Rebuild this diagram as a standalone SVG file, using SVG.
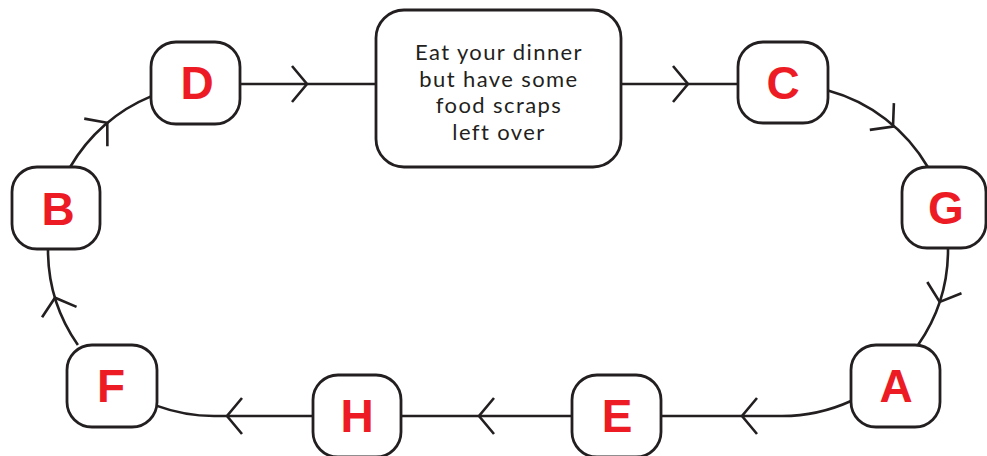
<svg xmlns="http://www.w3.org/2000/svg" width="987" height="456" viewBox="0 0 987 456">
<style>
.box{fill:#ffffff;stroke:#231f20;stroke-width:2.8}
.lbl{font-family:"Liberation Sans",Arial,sans-serif;font-weight:bold;font-size:46px;fill:#ed1c24;text-anchor:middle}
.txt{font-family:Lato,"Liberation Sans",sans-serif;font-size:22px;letter-spacing:1.4px;fill:#231f20;text-anchor:middle}
.con{fill:none;stroke:#231f20;stroke-width:2.6}
</style>
<defs>
<path id="chev" d="M-15,-18 L0,0 L-15,18" fill="none" stroke="#231f20" stroke-width="2.6"/>
</defs>
<rect width="987" height="456" fill="#ffffff"/>
<g id="connectors">
<path class="con" d="M240,84 H376"/>
<use href="#chev" transform="translate(307,84)"/>
<path class="con" d="M621,84 H738"/>
<use href="#chev" transform="translate(688,84)"/>
<path class="con" d="M828,90.5 A166,166 0 0 1 927.8,167"/>
<use href="#chev" transform="translate(893,126.5) rotate(42)"/>
<path class="con" d="M948,248 A166,166 0 0 1 918,345"/>
<use href="#chev" transform="translate(939.7,301.9) rotate(108.2)"/>
<path class="con" d="M851,401 A166,166 0 0 1 782,416 H661"/>
<use href="#chev" transform="translate(742,416) rotate(180)"/>
<path class="con" d="M572,416 H401"/>
<use href="#chev" transform="translate(479,416) rotate(180)"/>
<path class="con" d="M313,416 H214 A166,166 0 0 1 157,405.9"/>
<use href="#chev" transform="translate(227,416) rotate(180)"/>
<path class="con" d="M77.9,345 A166,166 0 0 1 48,249"/>
<use href="#chev" transform="translate(55,297.7) rotate(253.3)"/>
<path class="con" d="M70.2,167 A166,166 0 0 1 151,96.4"/>
<use href="#chev" transform="translate(107.3,122.8) rotate(-40)"/>
</g>
<g id="node-center">
<rect class="box" x="376" y="10" width="245" height="157" rx="28"/>
<text class="txt" x="499" y="60">Eat your dinner</text>
<text class="txt" x="499" y="86.7">but have some</text>
<text class="txt" x="499" y="113.3">food scraps</text>
<text class="txt" x="499" y="140">left over</text>
</g>
<g id="node-D">
<rect class="box" x="151" y="42" width="89" height="82" rx="25"/>
<text class="lbl" x="197" y="99">D</text>
</g>
<g id="node-C">
<rect class="box" x="738" y="42" width="90" height="81" rx="25"/>
<text class="lbl" x="783" y="99">C</text>
</g>
<g id="node-G">
<rect class="box" x="902" y="167" width="84" height="81" rx="25"/>
<text class="lbl" x="946" y="224">G</text>
</g>
<g id="node-A">
<rect class="box" x="851" y="345" width="89" height="82" rx="25"/>
<text class="lbl" x="896" y="402">A</text>
</g>
<g id="node-E">
<rect class="box" x="572" y="375" width="89" height="82" rx="25"/>
<text class="lbl" x="617" y="432">E</text>
</g>
<g id="node-H">
<rect class="box" x="313" y="375" width="88" height="82" rx="25"/>
<text class="lbl" x="357" y="432">H</text>
</g>
<g id="node-F">
<rect class="box" x="67" y="345" width="90" height="82" rx="25"/>
<text class="lbl" x="111" y="402">F</text>
</g>
<g id="node-B">
<rect class="box" x="12" y="167" width="88" height="82" rx="25"/>
<text class="lbl" x="58" y="225">B</text>
</g>
</svg>
